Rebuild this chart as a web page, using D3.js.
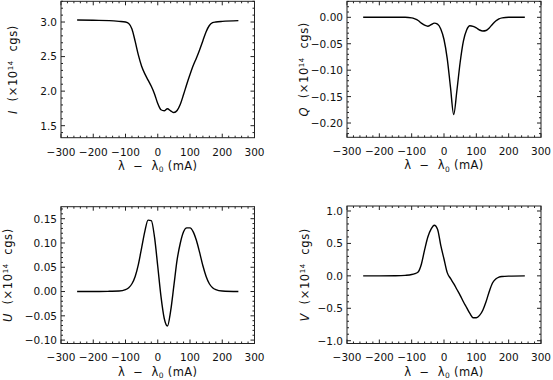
<!DOCTYPE html>
<html><head><meta charset="utf-8">
<script src="https://cdn.jsdelivr.net/npm/d3@7"></script>
<style>
body{margin:0;background:#fff;}
svg{display:block;}
text{font-family:"DejaVu Sans",Arial,Helvetica,sans-serif;fill:#111;}
</style></head>
<body><svg id="c" width="553" height="380"></svg>
<script>
const wavelength = [-250,-200,-150,-120,-100,-90,-80,-70,-60,-50,-40,-30,-20,-10,0,10,20,30,40,50,60,70,80,90,100,110,120,130,140,150,160,170,180,200,250];
const stokesI = [3.03,3.025,3.02,3.01,3.00,2.98,2.90,2.72,2.52,2.36,2.25,2.16,2.07,1.96,1.82,1.73,1.715,1.745,1.715,1.69,1.72,1.81,1.95,2.10,2.24,2.37,2.48,2.60,2.73,2.86,2.95,2.99,3.00,3.01,3.02];
const stokesQ = [0,0,0,0,-0.001,-0.003,-0.006,-0.011,-0.015,-0.017,-0.014,-0.011,-0.013,-0.022,-0.042,-0.078,-0.132,-0.184,-0.138,-0.085,-0.045,-0.024,-0.016,-0.017,-0.020,-0.024,-0.026,-0.025,-0.020,-0.013,-0.007,-0.003,-0.001,0,0];
const stokesU = [0,0,0.0005,0.001,0.004,0.008,0.016,0.031,0.056,0.090,0.124,0.147,0.146,0.112,0.052,-0.010,-0.055,-0.071,-0.040,0.012,0.065,0.100,0.123,0.131,0.131,0.123,0.105,0.080,0.053,0.031,0.016,0.008,0.004,0.001,0];
const stokesV = [0,0,0.002,0.008,0.02,0.035,0.06,0.18,0.40,0.60,0.72,0.78,0.72,0.47,0.26,0.05,-0.04,-0.12,-0.21,-0.30,-0.40,-0.49,-0.58,-0.645,-0.645,-0.61,-0.53,-0.40,-0.24,-0.11,-0.05,-0.02,-0.01,-0.004,0];

const xTicks = [-300,-200,-100,0,100,200,300];
const iTicks = [1.5,2.0,2.5,3.0];
const qTicks = [-0.20,-0.15,-0.10,-0.05,0.00];
const uTicks = [-0.10,-0.05,0.00,0.05,0.10,0.15];
const vTicks = [-1.0,-0.5,0.0,0.5,1.0];
const labels = ["I","Q","U","V"];

const panels = [
  {name:labels[0], vals:stokesI, x0:61, x1:254.5, y0:1.3, y1:137.7, dom:[1.326,3.30], ticks:iTicks, fmt:d3.format(".1f"), minor:0.1, tx:13},
  {name:labels[1], vals:stokesQ, x0:347, x1:541, y0:1.3, y1:137.3, dom:[-0.227,0.0303], ticks:qTicks, fmt:d3.format(".2f"), minor:0.01, tx:304},
  {name:labels[2], vals:stokesU, x0:61, x1:254.5, y0:206.7, y1:343.5, dom:[-0.107,0.1747], ticks:uTicks, fmt:d3.format(".2f"), minor:0.01, tx:8},
  {name:labels[3], vals:stokesV, x0:347, x1:541, y0:206, y1:343.5, dom:[-1.043,1.077], ticks:vTicks, fmt:d3.format(".1f"), minor:0.1, tx:305}
];

const svg = d3.select("#c");
const fmtMinus = s => s.replace("-", "\u2212");
const FS = 10.5, TFS = 11.5;

panels.forEach(p => {
  const x = d3.scaleLinear().domain([-300,300]).range([p.x0,p.x1]);
  const y = d3.scaleLinear().domain(p.dom).range([p.y1,p.y0]);
  const g = svg.append("g");

  g.append("rect").attr("x",p.x0).attr("y",p.y0).attr("width",p.x1-p.x0).attr("height",p.y1-p.y0)
    .attr("fill","none").attr("stroke","#222").attr("stroke-width",1);

  const xMinor = d3.range(-300,300.01,20);
  xMinor.forEach(v => {
    const isMajor = Math.abs(v % 100) < 1e-6;
    const L = isMajor ? 4 : 2;
    const xp = x(v);
    g.append("line").attr("x1",xp).attr("x2",xp).attr("y1",p.y1).attr("y2",p.y1-L).attr("stroke","#222");
    g.append("line").attr("x1",xp).attr("x2",xp).attr("y1",p.y0).attr("y2",p.y0+L).attr("stroke","#222");
  });
  const lo = Math.ceil(p.dom[0]/p.minor - 1e-6), hi = Math.floor(p.dom[1]/p.minor + 1e-6);
  for (let k = lo; k <= hi; k++) {
    const v = k*p.minor;
    const isMajor = p.ticks.some(t => Math.abs(t - v) < p.minor/10);
    const L = isMajor ? 4 : 2;
    const yp = y(v);
    g.append("line").attr("x1",p.x0).attr("x2",p.x0+L).attr("y1",yp).attr("y2",yp).attr("stroke","#222");
    g.append("line").attr("x1",p.x1).attr("x2",p.x1-L).attr("y1",yp).attr("y2",yp).attr("stroke","#222");
  }

  g.selectAll(".xl").data(xTicks).enter().append("text")
    .attr("x",d=>x(d)).attr("y",p.y1+17.8).attr("text-anchor","middle").attr("font-size",FS)
    .text(d=>fmtMinus(String(d)));
  g.selectAll(".yl").data(p.ticks).enter().append("text")
    .attr("x",p.x0-4).attr("y",d=>y(d)+3.9).attr("text-anchor","end").attr("font-size",FS)
    .text(d=>fmtMinus(p.fmt(d)));

  const xt = g.append("text").attr("x",(p.x0+p.x1)/2).attr("y",p.y1+32).attr("text-anchor","middle")
    .attr("font-size",TFS).attr("letter-spacing",0.4).attr("xml:space","preserve");
  xt.append("tspan").text("\u03bb  \u2212  \u03bb");
  xt.append("tspan").attr("font-size",7.5).attr("dy",2.5).text("0");
  xt.append("tspan").attr("dy",-2.5).text(" (mA)");

  const cy = (p.y0+p.y1)/2;
  const yt = g.append("text").attr("transform",`translate(${p.tx+4},${cy}) rotate(-90)`).attr("text-anchor","middle")
    .attr("font-size",TFS).attr("letter-spacing",0.6).attr("xml:space","preserve");
  yt.append("tspan").attr("font-style","italic").text(p.name);
  yt.append("tspan").text("  (\u00d710");
  yt.append("tspan").attr("font-size",7).attr("dy",-4.5).text("14");
  yt.append("tspan").attr("dy",4.5).text("  cgs)");

  const line = d3.line().x((d,i)=>x(wavelength[i])).y(d=>y(d)).curve(d3.curveMonotoneX);
  g.append("path").attr("d",line(p.vals)).attr("fill","none").attr("stroke","#000").attr("stroke-width",1.4);
});
</script></body></html>
